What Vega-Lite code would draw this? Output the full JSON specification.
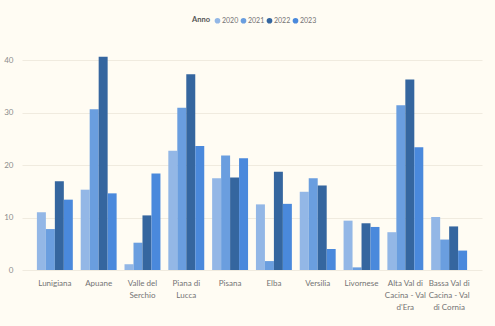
{
  "$schema": "https://vega.github.io/schema/vega-lite/v6.json",
  "width": 460,
  "height": 226,
  "autosize": {"type": "none"},
  "padding": {"left": 22, "top": 44, "right": 13, "bottom": 56},
  "background": "#FFFCF3",
  "data": {
    "values": [
      {"zona": "Lunigiana", "anno": "2020", "valore": 11.0},
      {"zona": "Lunigiana", "anno": "2021", "valore": 7.8},
      {"zona": "Lunigiana", "anno": "2022", "valore": 16.9},
      {"zona": "Lunigiana", "anno": "2023", "valore": 13.4},
      {"zona": "Apuane", "anno": "2020", "valore": 15.3},
      {"zona": "Apuane", "anno": "2021", "valore": 30.6},
      {"zona": "Apuane", "anno": "2022", "valore": 40.6},
      {"zona": "Apuane", "anno": "2023", "valore": 14.6},
      {"zona": "Valle del\nSerchio", "anno": "2020", "valore": 1.1},
      {"zona": "Valle del\nSerchio", "anno": "2021", "valore": 5.2},
      {"zona": "Valle del\nSerchio", "anno": "2022", "valore": 10.4},
      {"zona": "Valle del\nSerchio", "anno": "2023", "valore": 18.4},
      {"zona": "Piana di\nLucca", "anno": "2020", "valore": 22.7},
      {"zona": "Piana di\nLucca", "anno": "2021", "valore": 30.9},
      {"zona": "Piana di\nLucca", "anno": "2022", "valore": 37.3},
      {"zona": "Piana di\nLucca", "anno": "2023", "valore": 23.6},
      {"zona": "Pisana", "anno": "2020", "valore": 17.5},
      {"zona": "Pisana", "anno": "2021", "valore": 21.8},
      {"zona": "Pisana", "anno": "2022", "valore": 17.6},
      {"zona": "Pisana", "anno": "2023", "valore": 21.3},
      {"zona": "Elba", "anno": "2020", "valore": 12.5},
      {"zona": "Elba", "anno": "2021", "valore": 1.7},
      {"zona": "Elba", "anno": "2022", "valore": 18.7},
      {"zona": "Elba", "anno": "2023", "valore": 12.6},
      {"zona": "Versilia", "anno": "2020", "valore": 14.9},
      {"zona": "Versilia", "anno": "2021", "valore": 17.5},
      {"zona": "Versilia", "anno": "2022", "valore": 16.1},
      {"zona": "Versilia", "anno": "2023", "valore": 4.0},
      {"zona": "Livornese", "anno": "2020", "valore": 9.4},
      {"zona": "Livornese", "anno": "2021", "valore": 0.5},
      {"zona": "Livornese", "anno": "2022", "valore": 8.9},
      {"zona": "Livornese", "anno": "2023", "valore": 8.2},
      {"zona": "Alta Val di\nCacina - Val\nd'Era", "anno": "2020", "valore": 7.2},
      {"zona": "Alta Val di\nCacina - Val\nd'Era", "anno": "2021", "valore": 31.4},
      {"zona": "Alta Val di\nCacina - Val\nd'Era", "anno": "2022", "valore": 36.3},
      {"zona": "Alta Val di\nCacina - Val\nd'Era", "anno": "2023", "valore": 23.4},
      {"zona": "Bassa Val di\nCacina - Val\ndi Cornia", "anno": "2020", "valore": 10.1},
      {"zona": "Bassa Val di\nCacina - Val\ndi Cornia", "anno": "2021", "valore": 5.8},
      {"zona": "Bassa Val di\nCacina - Val\ndi Cornia", "anno": "2022", "valore": 8.3},
      {"zona": "Bassa Val di\nCacina - Val\ndi Cornia", "anno": "2023", "valore": 3.7}
    ]
  },
  "mark": {"type": "bar"},
  "encoding": {
    "x": {
      "field": "zona",
      "type": "nominal",
      "sort": null,
      "title": null,
      "scale": {"paddingInner": 0.18, "paddingOuter": 0.34},
      "axis": {
        "labelAngle": 0,
        "labelExpr": "split(datum.label, '\\n')",
        "labelLineHeight": 12,
        "labelPadding": 9,
        "domain": false,
        "ticks": false,
        "labelColor": "#737373",
        "labelFontSize": 8,
        "labelFont": "Lato"
      }
    },
    "xOffset": {"field": "anno", "type": "nominal", "sort": ["2020", "2021", "2022", "2023"]},
    "y": {
      "field": "valore",
      "type": "quantitative",
      "title": null,
      "scale": {"domain": [0, 43.05], "nice": false},
      "axis": {
        "values": [0, 10, 20, 30, 40],
        "domain": false,
        "ticks": false,
        "labelPadding": 9,
        "labelColor": "#8C8C8C",
        "labelFontSize": 8,
        "labelFont": "Lato",
        "gridColor": "#F0EBDF",
        "gridWidth": 1
      }
    },
    "color": {
      "field": "anno",
      "type": "nominal",
      "title": "Anno",
      "scale": {
        "domain": ["2020", "2021", "2022", "2023"],
        "range": ["#93B7E6", "#6A9EDF", "#35669F", "#4A89DC"]
      },
      "legend": {
        "orient": "none",
        "legendX": 170,
        "legendY": -27,
        "direction": "horizontal",
        "titleOrient": "left",
        "titleFont": "Lato",
        "titleFontSize": 7.5,
        "titleFontWeight": "bold",
        "titleColor": "#555555",
        "titlePadding": 4,
        "labelFont": "Lato",
        "labelFontSize": 7,
        "labelColor": "#737373",
        "symbolType": "circle",
        "symbolSize": 32,
        "symbolStrokeWidth": 0,
        "columnPadding": 1,
        "labelOffset": 1
      }
    }
  },
  "config": {"view": {"stroke": null}}
}
